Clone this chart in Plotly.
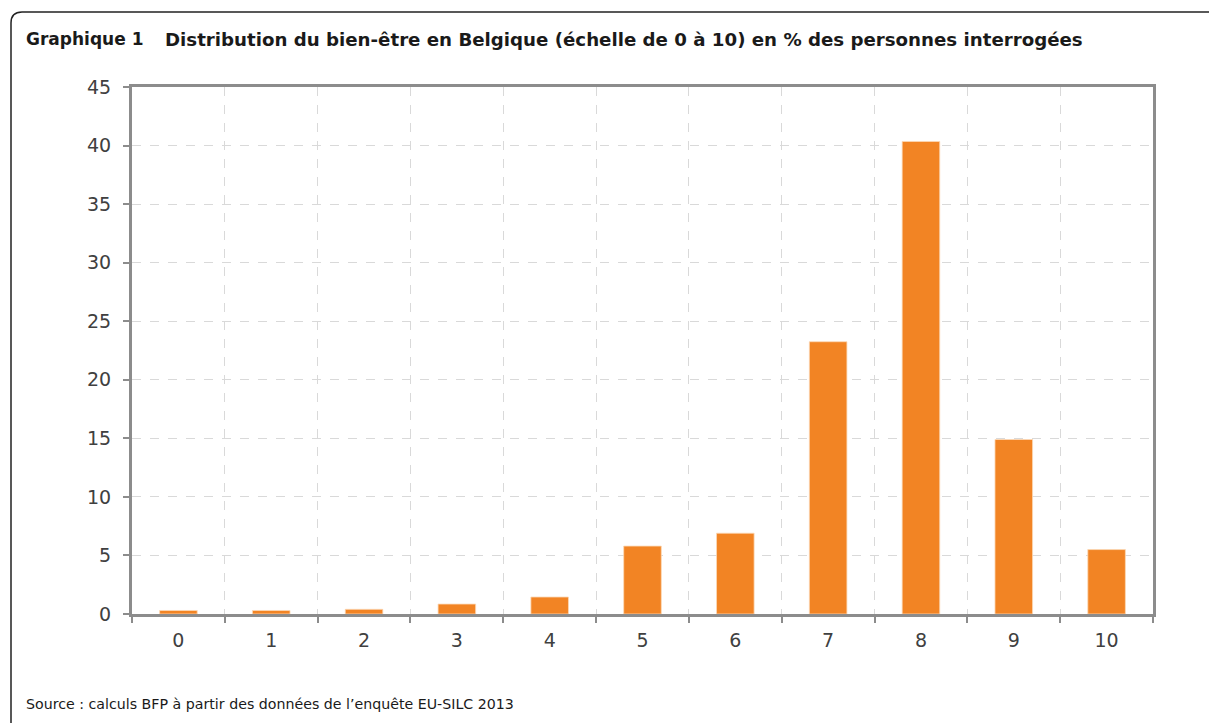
import plotly.graph_objects as go

categories = ["0", "1", "2", "3", "4", "5", "6", "7", "8", "9", "10"]
values = [0.3, 0.3, 0.4, 0.85, 1.45, 5.8, 6.9, 23.25, 40.35, 14.9, 5.5]
y_ticks = [0, 5, 10, 15, 20, 25, 30, 35, 40, 45]

W, H = 1209, 724
ML, MR, MT, MB = 132, 56, 87, 110
PW, PH = W - ML - MR, H - MT - MB

def px(x):
    return (x - ML) / PW

def py(y):
    return (H - MB - y) / PH

fig = go.Figure()
fig.add_trace(go.Bar(
    x=categories, y=values,
    marker=dict(color="#F28424", line=dict(color="#FBD9B8", width=0.8)),
    width=0.405,
))

axis_col = "#8C8C8C"
grid_col = "#D9D9D9"
tick_font = dict(family="DejaVu Sans", size=19, color="#404040")

fig.update_xaxes(
    type="category", tickson="boundaries",
    showline=True, linecolor=axis_col, linewidth=3, mirror=True,
    showgrid=True, gridcolor=grid_col, griddash="dash", gridwidth=1,
    ticks="outside", ticklen=6, tickwidth=2, tickcolor=axis_col,
    tickfont=tick_font, range=[-0.5, 10.5], ticklabelstandoff=7,
)
fig.update_yaxes(
    range=[0, 45], tickvals=y_ticks,
    showline=True, linecolor=axis_col, linewidth=3, mirror=True,
    showgrid=True, gridcolor=grid_col, griddash="dash", gridwidth=1,
    ticks="outside", ticklen=6, tickwidth=2, tickcolor=axis_col,
    tickfont=tick_font, zeroline=False, ticklabelstandoff=8,
)

# rounded frame
x0, y0, r = 11, 12, 11
frame = (f"M {px(x0)} {py(723)} L {px(x0)} {py(y0 + r)} "
         f"Q {px(x0)} {py(y0)} {px(x0 + r)} {py(y0)} L {px(1215)} {py(y0)}")
fig.add_shape(type="path", xref="paper", yref="paper", path=frame,
              line=dict(color="#222222", width=1.5), layer="below")

fig.add_annotation(x=px(24), y=py(39), xref="paper", yref="paper",
                   text="<b>Graphique 1</b>", showarrow=False,
                   xanchor="left", yanchor="middle",
                   font=dict(family="DejaVu Sans", size=17, color="#1a1a1a"))
fig.add_annotation(x=px(163), y=py(39), xref="paper", yref="paper",
                   text="<b>Distribution du bien-être en Belgique (échelle de 0 à 10) en % des personnes interrogées</b>",
                   showarrow=False, xanchor="left", yanchor="middle",
                   font=dict(family="DejaVu Sans", size=18.2, color="#1a1a1a"))
fig.add_annotation(x=px(24), y=py(704), xref="paper", yref="paper",
                   text="Source : calculs BFP à partir des données de l’enquête EU-SILC 2013",
                   showarrow=False, xanchor="left", yanchor="middle",
                   font=dict(family="DejaVu Sans", size=14.2, color="#1a1a1a"))

fig.update_layout(
    width=W, height=H,
    margin=dict(l=ML, r=MR, t=MT, b=MB),
    paper_bgcolor="white", plot_bgcolor="white",
    showlegend=False, bargap=0.6,
)

fig.write_html("out.html")
